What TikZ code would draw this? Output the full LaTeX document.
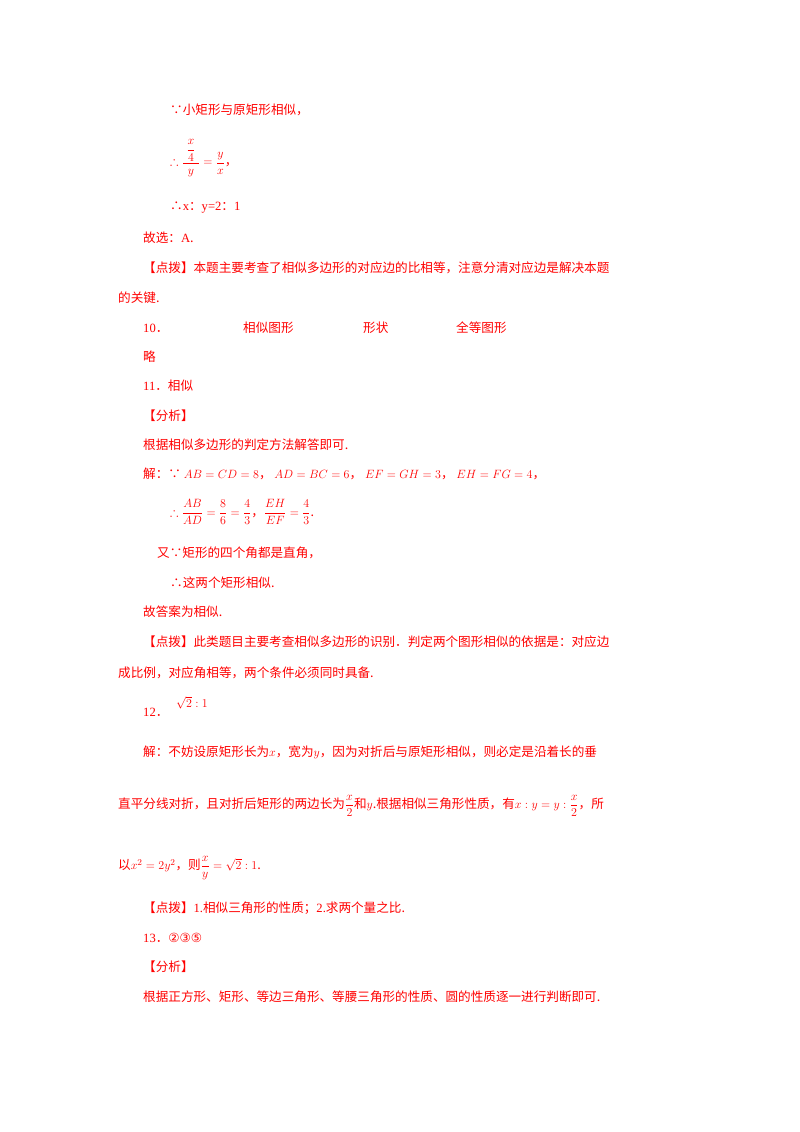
\documentclass[tikz,border=0pt]{standalone}
\usepackage{amsmath,amssymb}
\usepackage{fontspec}
\setmainfont{Liberation Serif}
\newfontfamily\cjk{Noto Sans CJK SC}
\newfontfamily\sym{DejaVu Sans}
\newcommand\la[1]{{\rmfamily #1}}
\begin{document}
\begin{tikzpicture}[x=1pt,y=-1pt,
  t/.style={anchor=west,inner sep=0pt,text=red,font=\fontsize{12.6}{15}\selectfont\cjk}]
\useasboundingbox[fill=white] (0,0) rectangle (800,1132);
\node[t] (l1) at (170,110) {∵小矩形与原矩形相似，};
\node[t] (l2) at (170,158) {$\therefore\dfrac{\;\dfrac{x}{4}\;}{y}=\dfrac{y}{x}$，};
\node[t] (l3) at (170,208) {∴\la{x}：\la{y=2}：\la{1}};
\node[t] (l4) at (143,238) {故选：\la{A}.};
\node[t] (l5) at (143,268) {【点拨】本题主要考查了相似多边形的对应边的比相等，注意分清对应边是解决本题};
\node[t] (l6) at (118,298) {的关键.};
\node[t] (l7) at (143,328) {\la{10}．};
\node[t] (l7a) at (243,328) {相似图形};
\node[t] (l7b) at (363,328) {形状};
\node[t] (l7c) at (456,328) {全等图形};
\node[t] (l8) at (143,357) {略};
\node[t] (l9) at (143,386) {\la{11}．相似};
\node[t] (l10) at (143,416) {【分析】};
\node[t] (l11) at (143,445) {根据相似多边形的判定方法解答即可.};
\node[t] (l12) at (143,474) {解：∵ $AB=CD=8$，\ $AD=BC=6$，\ $EF=GH=3$，\ $EH=FG=4$，};
\node[t] (l13) at (170,512) {$\therefore\dfrac{AB}{AD}=\dfrac{8}{6}=\dfrac{4}{3}$，$\dfrac{EH}{EF}=\dfrac{4}{3}$.};
\node[t] (l14) at (157,553) {又∵矩形的四个角都是直角，};
\node[t] (l15) at (170,583) {∴这两个矩形相似.};
\node[t] (l16) at (143,612) {故答案为相似.};
\node[t] (l17) at (143,642) {【点拨】此类题目主要考查相似多边形的识别．判定两个图形相似的依据是：对应边};
\node[t] (l18) at (118,673) {成比例，对应角相等，两个条件必须同时具备.};
\node[t] (l19) at (143,712) {\la{12}．};
\node[t] (l19a) at (176,703) {$\sqrt{2}:1$};
\node[t] (l20) at (143,752) {解：不妨设原矩形长为$x$，宽为$y$，因为对折后与原矩形相似，则必定是沿着长的垂};
\node[t] (l21) at (118,806) {直平分线对折，且对折后矩形的两边长为$\dfrac{x}{2}$和$y$.根据相似三角形性质，有$x:y=y:\dfrac{x}{2}$，所};
\node[t] (l22) at (118,868) {以$x^2=2y^2$，则$\dfrac{x}{y}=\sqrt{2}:1$.};
\node[t] (l23) at (143,908) {【点拨】\la{1.}相似三角形的性质；\la{2.}求两个量之比.};
\node[t] (l24) at (143,938) {\la{13}．{\sym ②③⑤}};
\node[t] (l25) at (143,967) {【分析】};
\node[t] (l26) at (143,997) {根据正方形、矩形、等边三角形、等腰三角形的性质、圆的性质逐一进行判断即可.};
\end{tikzpicture}
\end{document}
